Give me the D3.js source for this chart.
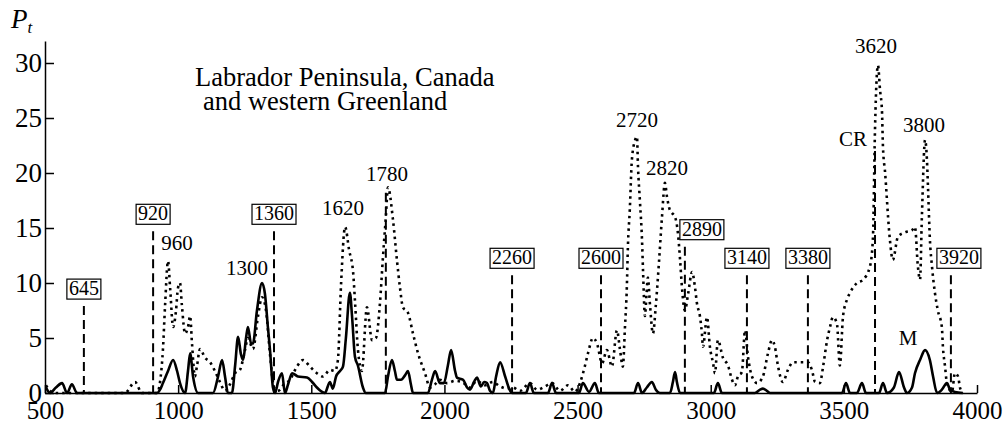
<!DOCTYPE html>
<html>
<head>
<meta charset="utf-8">
<script src="https://cdn.jsdelivr.net/npm/d3@7"></script>
<style>
  body { margin: 0; background: #fff; }
  text { font-family: "Liberation Serif", "Times New Roman", serif; fill: #000; }
</style>
</head>
<body>
<div class="chart"></div>
<script>
// dotted curve (CR)
const crYears = [504, 519, 538, 800, 838, 864, 921, 932, 943, 951, 962, 970, 981, 992, 999, 1007, 1014, 1026, 1037, 1045,
  1052, 1063, 1071, 1082, 1101, 1120, 1138, 1157, 1176, 1195, 1214, 1232, 1251, 1262, 1281, 1300, 1315, 1330, 1345, 1360,
  1375, 1398, 1420, 1446, 1469, 1495, 1521, 1544, 1570, 1589, 1600, 1612, 1627, 1642, 1657, 1664, 1675, 1690, 1709, 1728,
  1743, 1758, 1769, 1780, 1788, 1807, 1822, 1833, 1844, 1863, 1882, 1901, 1927, 1946, 1965, 1983, 2010, 2040, 2066, 2096,
  2122, 2152, 2182, 2209, 2235, 2257, 2284, 2321, 2348, 2378, 2404, 2434, 2464, 2490, 2509, 2528, 2539, 2558, 2573, 2592,
  2610, 2629, 2648, 2659, 2670, 2678, 2685, 2689, 2696, 2704, 2716, 2723, 2727, 2734, 2742, 2746, 2753, 2759, 2764, 2772,
  2783, 2794, 2806, 2817, 2828, 2836, 2847, 2866, 2877, 2885, 2892, 2903, 2915, 2930, 2941, 2948, 2960, 2967, 2971, 2986,
  2997, 3009, 3016, 3027, 3046, 3065, 3080, 3091, 3102, 3117, 3129, 3140, 3155, 3174, 3196, 3215, 3230, 3241, 3253, 3271,
  3290, 3309, 3347, 3365, 3380, 3392, 3410, 3422, 3437, 3448, 3459, 3474, 3485, 3497, 3512, 3523, 3549, 3572, 3598, 3609,
  3617, 3624, 3628, 3636, 3643, 3647, 3655, 3662, 3666, 3673, 3684, 3703, 3730, 3756, 3767, 3778, 3786, 3793, 3805, 3812,
  3816, 3823, 3831, 3842, 3853, 3868, 3872, 3880, 3887, 3906, 3917, 3929, 3936, 3947];
const crValues = [0.7, 0.2, 0, 0, 1.0, 0, 0, 1.0, 4, 8, 12, 9.5, 6, 7.5, 9.5, 10, 8, 5.4, 6, 7,
  4.5, 1.5, 2.5, 4, 3.2, 2.8, 2, 1, 0.2, 0.8, 1.8, 2.1, 3.9, 5, 4, 7, 8.7, 7.5, 3.5, 0.5,
  0.2, 0.8, 1.2, 2.4, 3, 2.4, 1.8, 1.5, 2.1, 2, 3, 10, 15.1, 13, 11, 8.4, 4, 2, 7.8, 4.8,
  5, 8.2, 12.3, 16, 18.7, 15.7, 12, 9.6, 7.8, 7.3, 5.4, 3.6, 1.8, 0.5, 0.8, 1.2, 0.9, 1.1, 1.0, 0.5,
  1.1, 0.7, 1.0, 0.6, 0.4, 0.5, 0.2, 0.9, 0.3, 0.6, 0.9, 0.2, 0.7, 0.1, 0.9, 2.5, 3.6, 5, 4.5, 2.7,
  3.9, 2.4, 5.7, 4, 2.4, 6, 9.6, 13.3, 16.6, 21.2, 23, 23.3, 20.5, 17.5, 13.9, 11, 7, 9, 10.5, 8,
  5.4, 8, 12, 16, 19.1, 17.8, 16.6, 16, 14.5, 12.1, 9.6, 7.5, 9, 11, 9.6, 8.2, 6.9, 5.4, 4.2, 6.9,
  4.2, 2.7, 1.8, 4.8, 3.2, 2.5, 1.2, 0.7, 1.5, 1.9, 5.7, 3.3, 1.5, 0.9, 1.5, 3.6, 4.8, 4.2, 2.4, 1,
  2.1, 2.8, 2.8, 2.8, 2.1, 1, 0.9, 2.4, 4.8, 6, 6.9, 6.3, 2.5, 7, 8.5, 9.1, 10, 10.3, 11.5, 14,
  24, 29, 29.8, 27.5, 25.7, 22.3, 20, 17.5, 16, 13.9, 12.1, 14.2, 14.6, 14.8, 15.1, 11.5, 10.3, 16, 23, 21.2,
  18.7, 14, 11.5, 9.1, 7.5, 6, 4.2, 2.4, 0.9, 0.1, 1.8, 1.5, 0.5, 0];

// solid curve (M)
const mYears = [504, 519, 541, 564, 583, 601, 620, 921, 932, 943, 962, 981, 996, 1007, 1026, 1037, 1045, 1056, 1075, 1131,
  1150, 1165, 1176, 1187, 1202, 1214, 1225, 1236, 1244, 1255, 1262, 1274, 1281, 1296, 1315, 1326, 1337, 1345, 1356, 1364,
  1375, 1390, 1401, 1413, 1428, 1450, 1484, 1503, 1521, 1551, 1570, 1581, 1593, 1608, 1619, 1630, 1645, 1653, 1664, 1675,
  1694, 1705, 1777, 1788, 1803, 1814, 1822, 1837, 1852, 1863, 1874, 1882, 1938, 1953, 1965, 1983, 1998, 2013, 2025, 2040,
  2047, 2070, 2085, 2096, 2111, 2122, 2137, 2149, 2160, 2171, 2182, 2194, 2209, 2228, 2243, 2254, 2306, 2321, 2336, 2389,
  2404, 2419, 2505, 2520, 2543, 2565, 2580, 2712, 2727, 2742, 2760, 2779, 2794, 2809, 2847, 2858, 2866, 2873, 2885, 3012,
  3027, 3042, 3166, 3185, 3196, 3211, 3223, 3493, 3508, 3523, 3549, 3568, 3583, 3632, 3647, 3662, 3688, 3707, 3726, 3737,
  3756, 3767, 3786, 3805, 3823, 3835, 3850, 3868, 3887, 3899, 3917, 3947];
const mValues = [0.5, 0, 0.5, 0.9, 0, 0.8, 0, 0, 0.3, 0.9, 2, 3, 2, 0.9, 0, 2, 3.6, 1.5, 0, 0,
  1.5, 3, 1.5, 0, 0, 2.5, 5.1, 3.5, 3, 5, 6, 4.5, 4.5, 7.5, 10, 9, 6, 3.9, 0.5, 0,
  1, 1.8, 0, 0.8, 1.8, 1.5, 1.4, 1, 0.5, 0, 1.0, 0.4, 1.5, 2, 2.4, 5, 9.1, 7, 3.3, 2.5,
  0.5, 0, 0, 1.5, 3, 2, 1.2, 1.2, 1.6, 2, 0.8, 0, 0, 1.2, 2, 0.9, 0.9, 2.5, 3.9, 2,
  1.4, 1.2, 0.5, 0.3, 1, 1.4, 0.6, 1, 0.9, 0.2, 0, 1.5, 2.8, 1.5, 0.4, 0, 0, 0.9, 0, 0,
  0.9, 0, 0, 0.9, 0.1, 0.9, 0, 0, 0.9, 0, 0.5, 1, 0.3, 0, 0, 1, 1.9, 1, 0, 0,
  0.9, 0, 0, 0.3, 0.4, 0.2, 0, 0, 0.9, 0, 0, 0.9, 0, 0, 0.9, 0, 0.5, 1.9, 0.5, 0,
  0.5, 1.8, 3, 3.9, 3, 1.5, 0, 0.3, 0.9, 0.3, 0.1, 0];

// dashed marker lines
const markYears = [646, 906, 1360, 1780, 2254, 2588, 2903, 3136, 3365, 3617, 3902];
const markTops = [7.9, 14.7, 14.7, 18.2, 10.7, 10.7, 13.3, 10.7, 10.7, 22, 10.7];
const markLabels = ["645", "920", "1360", "", "2260", "2600", "2890", "3140", "3380", "", "3920"];

// peak labels
const peakLabels = ["960", "1300", "1620", "1780", "2720", "2820", "3620", "3800", "CR", "M"];
const peakYears = [996, 1259, 1619, 1784, 2723, 2836, 3621, 3801, 3534, 3741];
const peakValues = [13.0, 10.7, 16.2, 19.3, 24.2, 19.8, 30.9, 23.7, 22.5, 4.4];

const xTicks = [500, 1000, 1500, 2000, 2500, 3000, 3500, 4000];
const yTicks = [0, 5, 10, 15, 20, 25, 30];

const W = 1007, H = 424;
const boxShift = { "2890": 17, "3920": 8 };

const svg = d3.select(".chart").append("svg")
  .attr("width", W)
  .attr("height", H);

const x = d3.scaleLinear().domain([500, 4000]).range([45, 977]);
const y = d3.scaleLinear().domain([0, 32]).range([393, 41]);

// axes
const xAxis = svg.append("g")
  .attr("transform", "translate(0," + y(0) + ")")
  .call(d3.axisBottom(x).tickValues(xTicks).tickFormat(d3.format("d"))
    .tickSizeInner(-8).tickSizeOuter(0).tickPadding(8));
xAxis.selectAll("text").attr("font-size", 25).attr("font-family", null);
xAxis.selectAll("line, path").attr("stroke", "#000").attr("stroke-width", 1.5);

const yAxis = svg.append("g")
  .attr("transform", "translate(" + x(500) + ",0)")
  .call(d3.axisLeft(y).tickValues(yTicks).tickSizeInner(-9).tickSizeOuter(0).tickPadding(3));
yAxis.selectAll("text").attr("font-size", 27).attr("font-family", null);
yAxis.selectAll("line, path").attr("stroke", "#000").attr("stroke-width", 1.5);

// P_t label
const pt = svg.append("text").attr("x", 11).attr("y", 28)
  .attr("font-size", 27).attr("font-style", "italic");
pt.append("tspan").text("P");
pt.append("tspan").attr("font-size", 17).attr("dy", 5).text("t");

// title
const title = svg.append("text").attr("font-size", 26.5);
title.append("tspan").attr("x", 195).attr("y", 86).text("Labrador Peninsula, Canada");
title.append("tspan").attr("x", 203).attr("y", 110).text("and western Greenland");

// dashed lines with boxed labels
const marks = markYears.map((d, i) => ({ year: d, top: markTops[i], label: markLabels[i] }));

svg.append("g").selectAll("line").data(marks).enter().append("line")
  .attr("x1", d => x(d.year)).attr("x2", d => x(d.year))
  .attr("y1", d => y(d.top)).attr("y2", y(0))
  .attr("stroke", "#000").attr("stroke-width", 2)
  .attr("stroke-dasharray", "9,5");

const boxes = svg.append("g").selectAll("g").data(marks.filter(d => d.label)).enter().append("g")
  .attr("transform", d => "translate(" + (x(d.year) + (boxShift[d.label] || 0)) + "," + (y(d.top) - 7) + ")");
boxes.append("text")
  .attr("text-anchor", "middle").attr("y", -4).attr("font-size", 20)
  .text(d => d.label);
boxes.each(function() {
  const g = d3.select(this);
  const bb = g.select("text").node().getBBox();
  g.insert("rect", "text")
    .attr("x", bb.x - 2).attr("y", -20).attr("width", bb.width + 4).attr("height", 20)
    .attr("fill", "#fff").attr("stroke", "#000").attr("stroke-width", 1.2);
});

// curves
const line = d3.line().x(d => x(d[0])).y(d => y(d[1])).curve(d3.curveMonotoneX);

svg.append("path")
  .datum(crYears.map((d, i) => [d, crValues[i]]))
  .attr("fill", "none").attr("stroke", "#000").attr("stroke-width", 2.6)
  .attr("stroke-dasharray", "2.5,4")
  .attr("d", line);

svg.append("path")
  .datum(mYears.map((d, i) => [d, mValues[i]]))
  .attr("fill", "none").attr("stroke", "#000").attr("stroke-width", 2.6)
  .attr("stroke-linejoin", "round")
  .attr("d", line);

// peak labels
svg.append("g").selectAll("text").data(peakLabels).enter().append("text")
  .attr("x", (d, i) => x(peakYears[i]))
  .attr("y", (d, i) => y(peakValues[i]))
  .attr("text-anchor", "middle").attr("font-size", 21)
  .text(d => d);
</script>
</body>
</html>
